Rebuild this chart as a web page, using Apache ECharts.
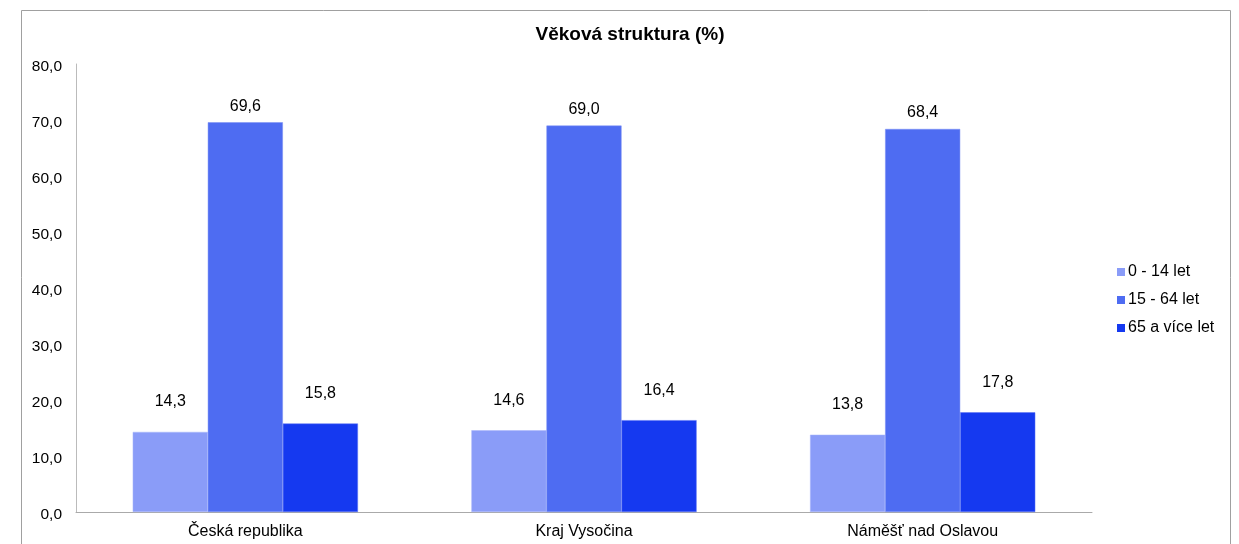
<!DOCTYPE html>
<html>
<head>
<meta charset="utf-8">
<script src="https://cdn.jsdelivr.net/npm/echarts@6/dist/echarts.min.js"></script>
<style>html,body{margin:0;padding:0;background:#fff}#c{width:1239px;height:544px}</style>
</head>
<body>
<div id="c"></div>
<script>
const categories = ['Česká republika', 'Kraj Vysočina', 'Náměšť nad Oslavou'];
const seriesNames = ['0 - 14 let', '15 - 64 let', '65 a více let'];
const age0_14 = [14.3, 14.6, 13.8];
const age15_64 = [69.6, 69.0, 68.4];
const age65plus = [15.8, 16.4, 17.8];
const yTicks = { min: 0, max: 80, interval: 10 };

const colors = ['#8a9cf8', '#4e6cf2', '#1539f0'];
const borders = ['#a8b6fa', '#7a8ff5', '#5a72f5'];
const dataSets = [age0_14, age15_64, age65plus];
const distances = [22, 8, 22];
const fontFam = '"Liberation Sans", Arial, sans-serif';

const chart = echarts.init(document.getElementById('c'));
chart.setOption({
  animation: false,
  backgroundColor: '#fff',
  textStyle: { fontFamily: fontFam },
  title: {
    text: 'Věková struktura (%)',
    left: 625, top: 20, textAlign: 'center',
    textStyle: { fontSize: 19, fontWeight: 'bold', color: '#000', fontFamily: fontFam }
  },
  graphic: [{
    type: 'rect', shape: { x: 21.5, y: 10.5, width: 1209, height: 560 },
    style: { fill: 'none', stroke: '#a0a0a0', lineWidth: 1 }, silent: true
  }],
  legend: {
    orient: 'vertical', left: 1112, top: 259, itemGap: 12,
    itemWidth: 8, itemHeight: 8, icon: 'rect',
    itemStyle: { borderWidth: 0 },
    textStyle: { fontSize: 16, color: '#000', padding: [0, 0, 0, -2] },
    data: seriesNames
  },
  grid: { left: 76, right: 147, top: 64, bottom: 32, containLabel: false },
  xAxis: {
    type: 'category', data: categories,
    axisLine: { lineStyle: { color: '#aaaaaa' } },
    axisTick: { show: false },
    axisLabel: { fontSize: 16, color: '#000', margin: 12 }
  },
  yAxis: {
    type: 'value', min: yTicks.min, max: yTicks.max, interval: yTicks.interval,
    axisLine: { show: true, lineStyle: { color: '#bbbbbb' } },
    axisTick: { show: false },
    splitLine: { show: false },
    axisLabel: { fontSize: 15.5, color: '#000', margin: 14, lineHeight: 24, verticalAlign: 'top', padding: [-9, 0, 0, 0],
      formatter: v => v.toFixed(1).replace('.', ',') }
  },
  series: seriesNames.map((n, i) => ({
    name: n, type: 'bar', data: dataSets[i],
    barGap: '0%', barCategoryGap: '33.5%',
    itemStyle: { color: colors[i], borderColor: borders[i], borderWidth: 0.5 },
    label: {
      show: true, position: 'top', distance: distances[i],
      fontSize: 16, color: '#000',
      formatter: p => p.value.toFixed(1).replace('.', ',')
    }
  }))
});
</script>
</body>
</html>
